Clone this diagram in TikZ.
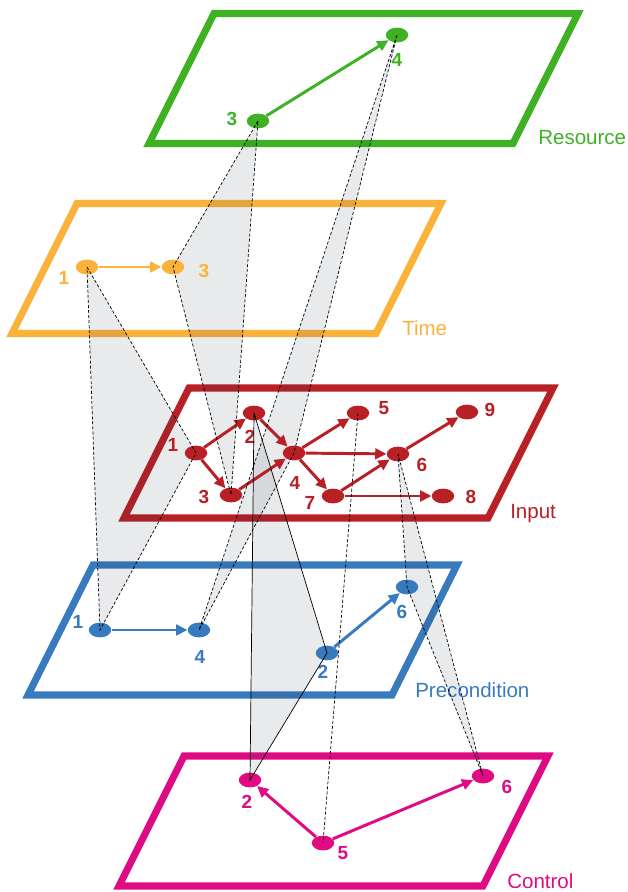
\documentclass[tikz,border=0pt]{standalone}
\usepackage{fontspec}
\setmainfont{Liberation Sans}
\usetikzlibrary{shapes.geometric,arrows.meta}

\definecolor{resgreen}{RGB}{62,178,36}
\definecolor{timeorange}{RGB}{251,178,59}
\definecolor{inred}{RGB}{184,32,38}
\definecolor{preblue}{RGB}{56,122,190}
\definecolor{ctrlpink}{RGB}{224,10,130}
\definecolor{bandgray}{RGB}{40,50,70}

\pgfdeclarelayer{back}
\pgfdeclarelayer{shade}
\pgfsetlayers{back,shade,main}

\tikzset{
  layerframe/.style={draw=#1, line width=5pt, line join=miter},
  vertex/.style={ellipse, fill=#1, minimum width=16pt, minimum height=10.5pt, inner sep=0pt},
  idx/.style={text=#1, font=\bfseries\fontsize{13.5}{15}\selectfont, inner sep=0pt},
  layername/.style={text=#1, anchor=west, font=\fontsize{14.6}{16}\selectfont, inner sep=0pt},
  flow/.style={draw=#1, line width=2.1pt, -{Triangle[length=8pt,width=7.5pt]}},
  link/.style={black, line width=0.5pt, dash pattern=on 2.2pt off 1.4pt},
  solidlink/.style={black, line width=0.5pt},
  band/.style={fill=bandgray, fill opacity=0.1},
}

\begin{document}
\begin{tikzpicture}[x=0.025cm, y=-0.025cm]
    \useasboundingbox (0,0) rectangle (627,892);

    % Layer frames
    \begin{pgfonlayer}{back}
    \draw[layerframe=resgreen] (214,13.5) -- ++(364,0) -- ++(-65,130) -- ++(-364,0) -- cycle;
    \draw[layerframe=timeorange] (77,203.5) -- ++(364,0) -- ++(-65,130) -- ++(-364,0) -- cycle;
    \draw[layerframe=inred] (189,388) -- ++(364,0) -- ++(-65,130) -- ++(-364,0) -- cycle;
    \draw[layerframe=preblue] (93,565) -- ++(364,0) -- ++(-65,130) -- ++(-364,0) -- cycle;
    \draw[layerframe=ctrlpink] (184,756) -- ++(364,0) -- ++(-65,130) -- ++(-364,0) -- cycle;
    \end{pgfonlayer}

    % Layer names
    \node[layername=resgreen] (resname) at (538,138) {Resource};
    \node[layername=timeorange] (timename) at (402,328) {Time};
    \node[layername=inred] (inname) at (510,514) {Input};
    \node[layername=preblue] (prename) at (415,690) {Precondition};
    \node[layername=ctrlpink] (ctrlname) at (507,881) {Control};

    % Resource
    \node[vertex=resgreen] (r3) at (258,121) {};
    \node[vertex=resgreen] (r4) at (397,35) {};
    \node[idx=resgreen] (r3l) at (232,119) {3};
    \node[idx=resgreen] (r4l) at (397,60) {4};
    \draw[flow=resgreen] (r3) -- (r4);

    % Time
    \node[vertex=timeorange] (t1) at (87,267) {};
    \node[vertex=timeorange] (t3) at (173,267) {};
    \node[idx=timeorange] (t1l) at (64,278) {1};
    \node[idx=timeorange] (t3l) at (204,271) {3};
    \draw[flow=timeorange] (t1) -- (t3);

    % Input
    \node[vertex=inred] (i1) at (196,453) {};
    \node[vertex=inred] (i2) at (254,413) {};
    \node[vertex=inred] (i3) at (231,495) {};
    \node[vertex=inred] (i4) at (294,453) {};
    \node[vertex=inred] (i5) at (358,413) {};
    \node[vertex=inred] (i6) at (398,454) {};
    \node[vertex=inred] (i7) at (333,496) {};
    \node[vertex=inred] (i8) at (443,496) {};
    \node[vertex=inred] (i9) at (467,412) {};
    \node[idx=inred] (i1l) at (173,445) {1};
    \node[idx=inred] (i2l) at (250,437) {2};
    \node[idx=inred] (i3l) at (204,497) {3};
    \node[idx=inred] (i4l) at (295,483) {4};
    \node[idx=inred] (i5l) at (384,408) {5};
    \node[idx=inred] (i6l) at (422,465) {6};
    \node[idx=inred] (i7l) at (310,503) {7};
    \node[idx=inred] (i8l) at (471,497) {8};
    \node[idx=inred] (i9l) at (490,410) {9};
    \draw[flow=inred] (i1) -- (i2);
    \draw[flow=inred] (i1) -- (i3);
    \draw[flow=inred] (i2) -- (i4);
    \draw[flow=inred] (i3) -- (i4);
    \draw[flow=inred] (i4) -- (i5);
    \draw[flow=inred] (i4) -- (i6);
    \draw[flow=inred] (i4) -- (i7);
    \draw[flow=inred] (i6) -- (i9);
    \draw[flow=inred] (i7) -- (i6);
    \draw[flow=inred] (i7) -- (i8);

    % Precondition
    \node[vertex=preblue] (p1) at (100,630) {};
    \node[vertex=preblue] (p4) at (199,630) {};
    \node[vertex=preblue] (p2) at (327,653) {};
    \node[vertex=preblue] (p6) at (407,587) {};
    \node[idx=preblue] (p1l) at (78,622) {1};
    \node[idx=preblue] (p4l) at (200,657) {4};
    \node[idx=preblue] (p2l) at (323,672) {2};
    \node[idx=preblue] (p6l) at (402,612) {6};
    \draw[flow=preblue] (p1) -- (p4);
    \draw[flow=preblue] (p2) -- (p6);

    % Control
    \node[vertex=ctrlpink] (c2) at (250,780) {};
    \node[vertex=ctrlpink] (c6) at (483,776) {};
    \node[vertex=ctrlpink] (c5) at (323,843) {};
    \node[idx=ctrlpink] (c2l) at (247,802) {2};
    \node[idx=ctrlpink] (c6l) at (507,787) {6};
    \node[idx=ctrlpink] (c5l) at (343,853) {5};
    \draw[flow=ctrlpink] (c5) -- (c2);
    \draw[flow=ctrlpink] (c5) -- (c6);

    % Shaded bands between layers
    \begin{pgfonlayer}{shade}
    \fill[band] (r3.center) -- (t3.center) -- (i3.center) -- cycle;
    \fill[band] (r4.center) -- (i4.center) -- (p4.center) -- cycle;
    \fill[band] (t1.center) -- (i1.center) -- (p1.center) -- cycle;
    \fill[band] (i2.center) -- (p2.center) -- (c2.center) -- cycle;
    \fill[band] (i6.center) -- (p6.center) -- (c6.center) -- cycle;
    \end{pgfonlayer}

    % Links across layers
    \draw[link] (r3.center) -- (t3.center) -- (i3.center) -- (r3.center);
    \draw[link] (r4.center) -- (i4.center) -- (p4.center) -- (r4.center);
    \draw[link] (t1.center) -- (i1.center) -- (p1.center) -- (t1.center);
    \draw[link] (i6.center) -- (p6.center) -- (c6.center) -- (i6.center);
    \draw[link] (i5.center) -- (c5.center);
    \draw[solidlink] (i2.center) -- (p2.center) -- (c2.center) -- (i2.center);
\end{tikzpicture}
\end{document}
